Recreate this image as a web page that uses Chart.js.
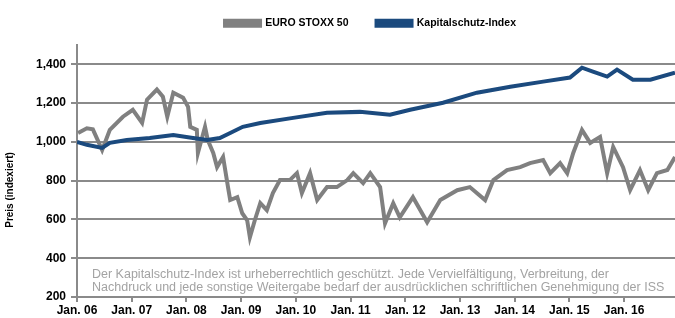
<!DOCTYPE html>
<html>
<head>
<meta charset="utf-8">
<script src="https://cdn.jsdelivr.net/npm/chart.js@4.4.0/dist/chart.umd.min.js"></script>
<style>
  html, body { margin: 0; padding: 0; background: #fff; }
</style>
</head>
<body>
<canvas id="chart" width="675" height="318"></canvas>
<script>
// EURO STOXX 50 (grey)
const stoxxDates = [2006.02, 2006.18, 2006.29, 2006.46, 2006.60, 2006.84, 2007.02, 2007.19, 2007.28, 2007.46,
  2007.57, 2007.65, 2007.76, 2007.94, 2008.03, 2008.07, 2008.19, 2008.21, 2008.34, 2008.39,
  2008.49, 2008.56, 2008.67, 2008.76, 2008.80, 2008.93, 2009.02, 2009.11, 2009.16, 2009.25,
  2009.35, 2009.47, 2009.58, 2009.71, 2009.89, 2010.02, 2010.11, 2010.26, 2010.39, 2010.57,
  2010.75, 2010.94, 2011.05, 2011.23, 2011.36, 2011.54, 2011.63, 2011.78, 2011.90, 2012.14,
  2012.40, 2012.64, 2012.95, 2013.18, 2013.46, 2013.61, 2013.86, 2014.10, 2014.28, 2014.52,
  2014.65, 2014.83, 2014.96, 2015.07, 2015.23, 2015.38, 2015.56, 2015.69, 2015.80, 2015.98,
  2016.11, 2016.29, 2016.44, 2016.60, 2016.79, 2016.93];
const stoxxValues = [1046, 1070, 1065, 958, 1062, 1130, 1166, 1098, 1218, 1270,
  1233, 1130, 1254, 1228, 1181, 1078, 1062, 943, 1078, 1010,
  943, 870, 922, 767, 700, 715, 632, 596, 508, 596,
  684, 648, 736, 803, 803, 839, 736, 839, 700, 767,
  767, 803, 839, 787, 839, 767, 580, 684, 611, 715,
  586, 700, 751, 767, 700, 803, 855, 870, 891, 907,
  839, 891, 839, 943, 1062, 995, 1026, 839, 974, 870,
  751, 855, 751, 839, 855, 922];

// Kapitalschutz-Index (blue)
const ksiDates = [2006.00, 2006.18, 2006.46, 2006.60, 2006.91, 2007.33, 2007.76, 2008.12, 2008.38, 2008.61,
  2008.80, 2009.03, 2009.35, 2009.95, 2010.57, 2011.17, 2011.72, 2012.09, 2012.69, 2013.31,
  2013.92, 2014.52, 2015.01, 2015.23, 2015.43, 2015.69, 2015.87, 2016.16, 2016.48, 2016.93];
const ksiValues = [1000, 985, 969, 995, 1010, 1020, 1036, 1020, 1010, 1020,
  1046, 1078, 1098, 1124, 1150, 1155, 1140, 1166, 1202, 1254,
  1285, 1311, 1332, 1383, 1363, 1337, 1373, 1321, 1321, 1357];

const yearTicks = [2006, 2007, 2008, 2009, 2010, 2011, 2012, 2013, 2014, 2015, 2016];
const valueTicks = [200, 400, 600, 800, 1000, 1200, 1400];

const seriesNames = ['EURO STOXX 50', 'Kapitalschutz-Index'];
const yTitle = 'Preis (indexiert)';
const notice = [
  'Der Kapitalschutz-Index ist urheberrechtlich geschützt. Jede Vervielfältigung, Verbreitung, der',
  'Nachdruck und jede sonstige Weitergabe bedarf der ausdrücklichen schriftlichen Genehmigung der ISS'
];

const FONT = '"Liberation Sans", Arial, sans-serif';
const GREY = '#808080';
const BLUE = '#1b4a7e';
const AXIS = '#8a8a8a';

const pts = (xs, ys) => xs.map((x, i) => ({ x, y: ys[i] }));

// legend placement + fixed height of the top band
const legendFix = {
  id: 'legendFix',
  beforeInit(chart) {
    const fit = chart.legend.fit;
    chart.legend.fit = function () {
      fit.call(this);
      this.height = 45;
    };
  },
  afterLayout(chart) {
    chart.legend.left += 46;
    chart.legend.top -= 10;
  }
};

// copyright notice inside the plot
const noticePlugin = {
  id: 'notice',
  beforeDatasetsDraw(chart) {
    const { ctx, chartArea } = chart;
    ctx.save();
    ctx.beginPath();
    ctx.rect(chartArea.left, chartArea.top, chartArea.right - chartArea.left, chartArea.bottom - chartArea.top);
    ctx.clip();
    ctx.fillStyle = '#a3a3a3';
    ctx.font = '12.5px ' + FONT;
    ctx.textBaseline = 'middle';
    ctx.fillText(notice[0], 92, 275);
    ctx.fillText(notice[1], 92, 288);
    ctx.restore();
  }
};

// y title sits a bit below the axis centre in the original
const yTitleShift = {
  id: 'yTitleShift',
  afterDraw(chart) {
    const { ctx } = chart;
    ctx.save();
    ctx.translate(10, 190);
    ctx.rotate(-Math.PI / 2);
    ctx.fillStyle = '#000';
    ctx.font = 'bold 10px ' + FONT;
    ctx.textAlign = 'center';
    ctx.textBaseline = 'middle';
    ctx.fillText(yTitle, 0, 0);
    ctx.restore();
  }
};

new Chart(document.getElementById('chart'), {
  type: 'line',
  data: {
    datasets: [
      { label: seriesNames[0], data: pts(stoxxDates, stoxxValues), borderColor: GREY, backgroundColor: GREY,
        borderWidth: 4, pointRadius: 0, tension: 0, order: 1 },
      { label: seriesNames[1], data: pts(ksiDates, ksiValues), borderColor: BLUE, backgroundColor: BLUE,
        borderWidth: 4, pointRadius: 0, tension: 0, order: 0 }
    ]
  },
  options: {
    responsive: false,
    animation: false,
    layout: { padding: { left: 20, right: 0, top: 0, bottom: 0 } },
    plugins: {
      legend: {
        position: 'top',
        labels: {
          color: '#000', boxWidth: 35, boxHeight: 5, padding: 28,
          font: { family: FONT, size: 10.5, weight: 'bold' },
          sort: (a, b) => a.datasetIndex - b.datasetIndex
        }
      },
      tooltip: { enabled: false }
    },
    scales: {
      x: {
        type: 'linear', min: 2006, max: 2016.93,
        afterBuildTicks: s => { s.ticks = yearTicks.map(v => ({ value: v })); },
        afterFit: s => { s.height = 21; },
        ticks: {
          color: '#000', padding: 1, maxRotation: 0, autoSkip: false,
          font: { family: FONT, size: 12, weight: 'bold' },
          callback: v => 'Jan. ' + String(v).slice(2)
        },
        grid: { drawOnChartArea: false, drawTicks: true, tickLength: 5, color: AXIS, lineWidth: 2 },
        border: { color: AXIS, width: 2 }
      },
      y: {
        min: 200, max: 1500,
        afterBuildTicks: s => { s.ticks = valueTicks.map(v => ({ value: v })); },
        afterFit: s => { s.width = 57; },
        ticks: {
          color: '#000', padding: 5,
          font: { family: FONT, size: 12, weight: 'bold' },
          callback: v => v.toLocaleString('en-US')
        },
        grid: { color: AXIS, lineWidth: 2, tickLength: 6 },
        border: { color: AXIS, width: 2 }
      }
    }
  },
  plugins: [legendFix, noticePlugin, yTitleShift]
});
</script>
</body>
</html>
